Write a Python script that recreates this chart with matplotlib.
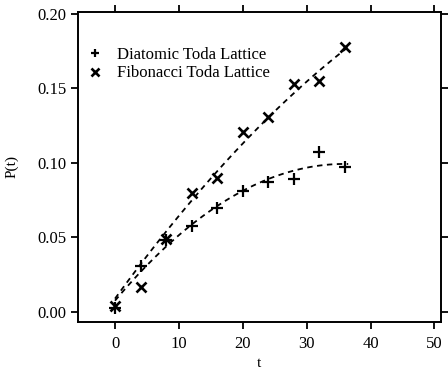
import numpy as np
import matplotlib
matplotlib.use("Agg")
import matplotlib.pyplot as plt

plt.rcParams['font.family'] = ['Liberation Serif', 'DejaVu Serif']

# time values
t = [0, 4, 8, 12, 16, 20, 24, 28, 32, 36]
# diatomic toda lattice
p_diatomic = [0.003, 0.031, 0.048, 0.058, 0.070, 0.081, 0.087, 0.089, 0.107, 0.097]
# fibonacci toda lattice
p_fibonacci = [0.004, 0.017, 0.049, 0.080, 0.090, 0.121, 0.131, 0.153, 0.155, 0.178]
# fit for the fibonacci curve (c2, c1, c0)
fib_fit = [-3.5e-5, 0.0059, 0.009]

fig = plt.figure(figsize=(4.48, 3.70), dpi=100)
ax = fig.add_axes([0.174, 0.13, 0.81, 0.838])

ax.plot(t, p_diatomic, '+', color='black', markersize=8, markeredgewidth=1.6,
        label='Diatomic Toda Lattice')
ax.plot(t, p_fibonacci, 'x', color='black', markersize=7, markeredgewidth=1.9,
        label='Fibonacci Toda Lattice')

# fitted curves
tt = np.linspace(0, 36.5, 100)
c1 = np.polyfit(t, p_diatomic, 2)
ax.plot(tt, np.polyval(c1, tt), color='black', linewidth=1.3, dashes=(3, 2.5))
ax.plot(tt, np.polyval(fib_fit, tt), color='black', linewidth=1.3, dashes=(3, 2.5))

ax.set_xlim(-5.8, 51)
ax.set_ylim(-0.0066, 0.2013)
ax.set_xticks([0, 10, 20, 30, 40, 50])
ax.set_yticks([0.00, 0.05, 0.10, 0.15, 0.20])
ax.yaxis.set_major_formatter(matplotlib.ticker.FormatStrFormatter('%.2f'))
ax.tick_params(direction='out', top=True, right=True, length=5, width=1.3, labelsize=12)
ax.tick_params(axis='x', pad=5)
for s in ax.spines.values():
    s.set_linewidth(1.4)

ax.set_xlabel('t', fontsize=11, labelpad=4)
ax.set_ylabel('P(t)', fontsize=11, labelpad=13)

leg = ax.legend(loc='upper left', frameon=False, fontsize=12, handletextpad=0.8,
                borderaxespad=0.4, labelspacing=0.15, handlelength=1.0,
                bbox_to_anchor=(-0.012, 0.93), markerscale=0.75)

fig.savefig('out.png', dpi=100)
